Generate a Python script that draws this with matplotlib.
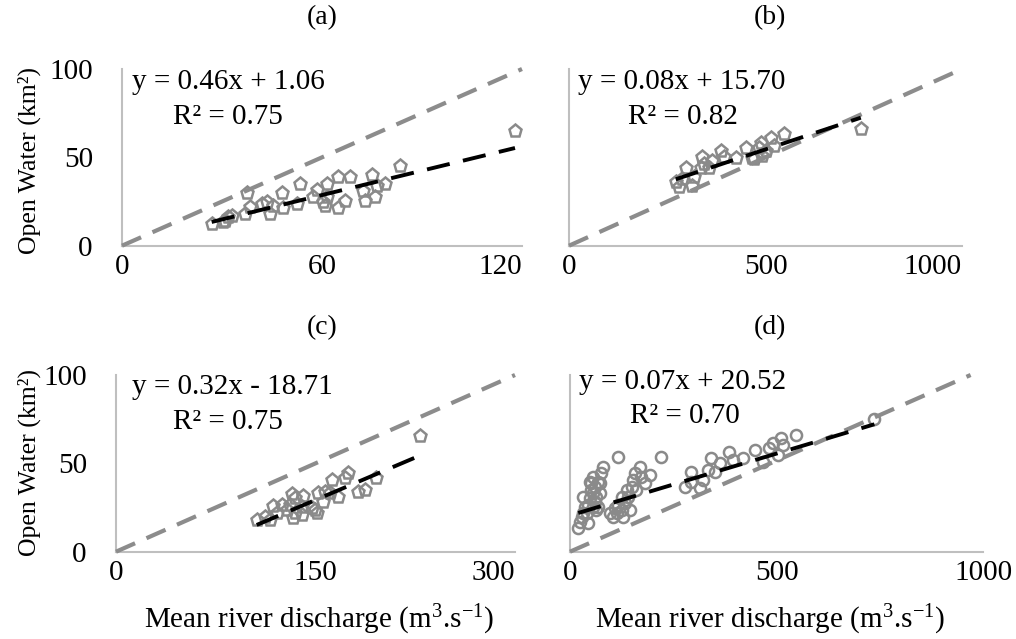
import matplotlib
matplotlib.use("Agg")
import matplotlib.pyplot as plt
import numpy as np

plt.rcParams['font.family'] = ['Liberation Serif', 'DejaVu Serif']
plt.rcParams['mathtext.fontset'] = 'custom'
plt.rcParams['mathtext.rm'] = 'Liberation Serif'
plt.rcParams['mathtext.it'] = 'Liberation Serif:italic'

# ---------------- data ----------------
panel_labels = ["(a)", "(b)", "(c)", "(d)"]

xa = [26.9, 30.4, 30.9, 31.9, 32.9, 36.9, 37.4, 38.4, 41.9, 43.4, 44.4, 45.4, 48.4,
      47.9, 52.4, 53.4, 57.4, 58.4, 60.4, 60.9, 61.4, 61.4, 64.9, 64.9, 66.9, 68.4,
      72.4, 72.9, 74.9, 75.9, 76.4, 78.9, 83.4, 117.9]
ya = [12.3, 13.2, 13.7, 16.0, 16.9, 17.9, 29.6, 22.0, 23.5, 24.5, 17.9, 22.6, 21.6,
      29.6, 23.5, 34.8, 27.3, 31.5, 24.5, 22.6, 34.8, 27.3, 39.0, 21.6, 25.4, 39.0,
      31.1, 25.4, 40.1, 27.3, 33.9, 34.8, 45.2, 65.0]

xb = [271.8, 280.3, 288.7, 297.3, 314.2, 318.3, 335.2, 339.5, 343.7, 357.2, 365.0,
      386.0, 394.5, 424.2, 449.6, 466.6, 470.8, 483.5, 487.7, 492.0, 500.4, 513.0,
      521.5, 546.9, 742.5]
yb = [35.8, 33.3, 37.7, 43.9, 33.9, 39.0, 44.2, 50.3, 46.2, 44.2, 48.0,
      53.7, 50.3, 49.9, 55.5, 49.9, 49.0, 55.5, 58.4, 50.8, 53.7, 60.8,
      56.5, 63.4, 65.9]

xc = [105.8, 112.0, 115.8, 118.3, 120.8, 124.6, 128.3, 130.8, 132.1, 133.3, 134.6,
      134.6, 139.6, 139.6, 140.8, 147.1, 149.6, 150.8, 152.1, 155.8, 157.1, 160.8,
      162.1, 167.1, 172.1, 174.6, 182.1, 187.1, 195.8, 228.3]
yc = [17.9, 19.8, 17.9, 25.8, 21.7, 26.3, 23.6, 26.3, 32.6, 18.9, 21.7,
      30.4, 25.5, 20.8, 31.5, 24.5, 23.6, 21.7, 33.4, 28.3, 34.0, 33.0,
      40.6, 31.1, 41.5, 44.7, 34.0, 35.0, 41.5, 65.2]

xd = [20, 24, 28, 32, 36, 32, 44, 48, 52, 52, 56, 60, 64, 68, 72, 72, 76, 81, 60, 40,
      56, 64, 48, 56, 68, 44,
      97, 105, 113, 117, 125, 125, 129, 133, 137, 141, 145, 149, 153, 157, 169, 161,
      173, 181, 193, 117, 221, 109,
      278, 294, 294, 314, 322, 334, 342, 350, 362, 386, 395, 419, 447, 467, 483, 491,
      503, 511, 515, 548, 737]
yd = [13.2, 17.0, 19.8, 21.7, 25.5, 31.1, 26.4, 30.2, 34.9, 38.7, 42.4, 36.8, 31.1,
      25.5, 33.0, 38.7, 44.4, 48.1, 28.3, 21.7, 25.5, 23.6, 39.6, 33.0, 39.6, 16.1,
      21.7, 19.8, 21.7, 26.4, 23.6, 31.1, 19.8, 27.4, 34.9, 31.1, 23.6, 36.8, 40.6,
      44.4, 48.1, 34.9, 42.4, 38.7, 43.4, 53.8, 53.8, 24.6,
      36.8, 45.3, 39.6, 35.9, 40.6, 46.2, 52.8, 45.3, 50.0, 56.6, 51.9, 52.8, 57.6,
      50.9, 58.5, 61.3, 54.7, 64.2, 60.4, 66.0, 74.9]

equations = ["y = 0.46x + 1.06", "y = 0.08x + 15.70", "y = 0.32x - 18.71", "y = 0.07x + 20.52"]
r2_texts = ["R² = 0.75", "R² = 0.82", "R² = 0.75", "R² = 0.70"]

# trend lines as drawn (slope, intercept)
trend_slope = [0.46, 0.074, 0.32, 0.07]
trend_icpt = [1.06, 17.5, -18.71, 20.52]

x_max = [120, 1000, 300, 1000]
x_ticks = [[0, 60, 120], [0, 500, 1000], [0, 150, 300], [0, 500, 1000]]
y_ticks = [0, 50, 100]
ref_end_x = [120, 1000, 300, 970]   # grey reference line endpoint x (at y = 100)

xs = [xa, xb, xc, xd]
ys = [ya, yb, yc, yd]
markers = ['p', 'p', 'p', 'o']

# ---------------- layout ----------------
W, H = 1016, 639
fig = plt.figure(figsize=(W / 100, H / 100), dpi=100)

# axes boxes in pixels: left, right, bottom(y=0), top(y=100)
boxes = [(122, 522, 245.7, 69), (569, 962, 245.7, 69),
         (116, 515, 551.7, 375), (570, 983, 551.7, 375)]
eq_pos = [((0.024, 0.926), (0.128, 0.729)),
          ((0.024, 0.926), (0.151, 0.729)),
          ((0.039, 0.934), (0.144, 0.736)),
          ((0.0225, 0.96), (0.145, 0.77))]
title_pos = [(322, 18), (770, 18), (322, 328), (770, 328)]
ylabel_pos = [(29, 160), None, (29, 463), None]
xlabel_pos = [None, None, (319, 620), (770, 620)]

spine_col = '#bfbfbf'
mk_col = '#8a8a8a'
ref_col = '#8c8c8c'

for i in range(4):
    l, r, b, t = boxes[i]
    ax = fig.add_axes([l / W, 1 - b / H, (r - l) / W, (b - t) / H])
    ax.set_xlim(0, x_max[i])
    ax.set_ylim(0, 100)
    for s in ['top', 'right']:
        ax.spines[s].set_visible(False)
    for s in ['left', 'bottom']:
        ax.spines[s].set_color(spine_col)
        ax.spines[s].set_linewidth(1.5)
    ax.set_xticks(x_ticks[i])
    ax.set_xticklabels([str(v) for v in x_ticks[i]])
    if i in (0, 2):
        ax.set_yticks(y_ticks)
        ax.set_yticklabels([str(v) for v in y_ticks])
    else:
        ax.set_yticks([])
    ax.tick_params(axis='x', length=0, labelsize=21, pad=6)
    ax.tick_params(axis='y', length=0, labelsize=21, pad=21)
    if i != 3:
        lbls = ax.get_xticklabels()
        lbls[-1].set_horizontalalignment('right')
    # scatter
    ms = 9.5 if markers[i] == 'p' else 8
    ax.plot(xs[i], ys[i], linestyle='none', marker=markers[i], ms=ms,
            mfc='none', mec=mk_col, mew=1.8, zorder=2, clip_on=False)
    # grey reference
    ax.plot([0, ref_end_x[i]], [0, 100], color=ref_col, lw=3.0,
            dashes=(5, 3), zorder=3, clip_on=False, solid_capstyle='butt')
    # black trend
    x0, x1 = min(xs[i]), max(xs[i])
    ax.plot([x0, x1], [trend_slope[i] * x0 + trend_icpt[i], trend_slope[i] * x1 + trend_icpt[i]],
            color='black', lw=2.8, dashes=(6, 3.5), zorder=4)
    (ex, ey), (rx, ry) = eq_pos[i]
    ax.text(ex, ey, equations[i], transform=ax.transAxes, fontsize=21,
            ha='left', va='center')
    ax.text(rx, ry, r2_texts[i], transform=ax.transAxes, fontsize=21,
            ha='left', va='center')
    if ylabel_pos[i] is not None:
        px, py = ylabel_pos[i]
        fig.text(px / W, 1 - py / H, "Open Water (km²)", fontsize=18.5,
                 rotation=90, ha='center', va='center')
    if xlabel_pos[i] is not None:
        px, py = xlabel_pos[i]
        fig.text(px / W, 1 - py / H, r"Mean river discharge (m$^{3}$.s$^{-1}$)",
                 fontsize=21, ha='center', va='center')
    tx, ty = title_pos[i]
    fig.text(tx / W, 1 - ty / H, panel_labels[i], fontsize=20, ha='center', va='center')

fig.savefig("out.png", dpi=100, facecolor='white')
